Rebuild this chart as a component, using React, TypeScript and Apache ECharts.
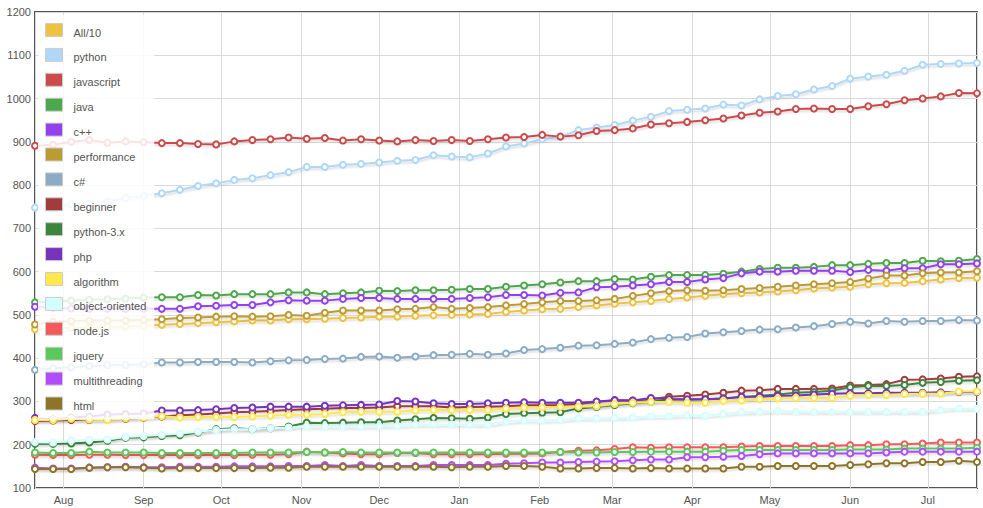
import React, { useEffect, useRef } from "react";
import * as echarts from "echarts";

// Weekly samples: 2012-07-21 .. 2013-07-20 (53 points)
const startYear = 2012;
const startMonth = 6; // July (0-based)
const startDay = 21;
const pointCount = 53;

const monthNames = ["Jan", "Feb", "Mar", "Apr", "May", "Jun", "Jul", "Aug", "Sep", "Oct", "Nov", "Dec"];

const seriesNames = [
  "All/10", "python", "javascript", "java", "c++", "performance", "c#", "beginner",
  "python-3.x", "php", "algorithm", "object-oriented", "node.js", "jquery", "multithreading", "html",
];

const seriesColors = [
  "#edc240", "#afd8f8", "#cb4b4b", "#4da74d", "#9440ed", "#bd9b33", "#8cacc6", "#a23c3c",
  "#3d853d", "#7633bd", "#ffe84c", "#d2ffff", "#f35a5a", "#5cc85c", "#b14cff", "#8e7426",
];

const all10 = [467,469,470,471,472,473,475,477,479,481,483,485,487,487,490,490,491,493,494,496,496,498,499,500,501,502,507,510,513,514,518,522,526,529,532,537,540,544,548,550,552,554,557,561,563,565,571,573,574,578,582,585,586];
const python = [748,752,755,758,762,770,775,781,789,798,804,812,816,823,830,842,842,847,849,852,856,858,869,866,864,873,889,896,906,912,927,933,939,949,958,971,974,977,986,984,998,1006,1010,1021,1029,1046,1051,1055,1064,1078,1080,1081,1082];
const javascript = [891,893,900,904,898,901,899,897,897,895,894,901,904,906,910,907,909,903,906,903,901,904,902,904,902,906,910,911,916,912,915,925,927,931,940,943,946,950,954,961,967,970,976,977,976,976,982,987,996,1000,1005,1013,1012];
const java = [529,531,533,535,536,538,540,541,541,546,545,548,548,548,552,552,548,550,552,556,555,557,557,558,560,560,565,568,571,575,578,578,583,582,588,592,592,592,595,600,606,609,609,611,615,615,618,620,620,625,624,625,629];
const cpp = [519,516,515,514,514,514,514,514,514,520,521,523,523,529,534,533,533,537,539,539,537,537,537,537,539,541,546,546,545,551,552,564,565,568,571,576,576,582,585,596,600,600,602,602,602,599,604,602,608,608,617,617,619];
const performance = [478,484,486,487,487,487,488,490,493,494,496,497,496,497,500,498,505,510,510,510,513,514,518,514,516,518,522,525,529,532,532,534,537,544,550,555,557,556,557,560,562,565,568,571,573,576,584,591,591,596,598,598,601];
const csharp = [373,377,379,382,384,384,386,390,390,391,391,391,390,393,395,396,398,399,403,404,401,404,407,408,410,408,411,419,421,424,429,430,433,436,444,447,449,457,460,463,466,467,471,474,479,484,480,486,484,486,486,488,487];
const beginner = [255,256,257,257,258,260,262,265,268,270,272,275,276,278,280,282,283,285,285,286,289,289,289,286,287,288,289,291,291,292,294,299,303,302,305,311,313,316,320,325,326,329,329,329,330,337,338,340,350,351,353,357,358];
const python3 = [202,202,203,205,209,216,217,220,222,228,236,238,236,238,242,251,250,251,252,252,256,259,262,261,260,263,271,273,274,275,284,287,292,296,299,305,304,305,307,310,313,316,320,322,325,333,336,336,338,343,345,348,349];
const php = [262,259,263,265,270,271,272,279,279,280,282,285,286,288,288,288,290,291,292,293,301,300,296,294,294,296,297,298,297,297,297,300,303,302,308,305,305,305,307,311,311,313,314,316,318,319,319,320,320,320,321,322,322];
const algorithm = [257,257,260,258,257,261,263,266,263,264,264,264,265,267,269,269,271,275,276,276,276,279,280,280,280,280,283,286,286,288,288,289,294,297,299,299,297,297,301,302,305,307,308,308,308,313,315,315,317,318,318,323,323];
const objectOriented = [206,205,210,211,212,218,220,223,226,230,234,236,236,238,240,242,242,242,242,243,244,246,247,247,247,246,253,256,256,257,261,261,262,263,266,266,268,267,271,275,276,278,276,276,276,276,276,276,276,276,280,284,283];
const nodejs = [177,176,176,177,177,176,176,176,176,176,176,176,177,177,178,184,182,180,178,178,181,181,178,178,178,178,179,179,180,183,186,187,190,194,193,194,194,194,194,196,197,197,197,197,197,199,199,201,201,203,205,205,205];
const jquery = [182,181,181,184,182,182,182,181,181,181,181,181,182,182,182,183,182,183,182,182,182,182,182,182,182,182,182,182,182,183,182,182,183,183,184,184,184,184,186,188,188,188,188,188,188,189,189,189,191,191,191,191,193];
const multithreading = [147,145,145,147,148,149,148,148,149,149,149,150,150,150,151,151,153,151,153,151,151,151,153,153,153,153,156,157,159,159,160,161,162,164,166,166,171,171,172,174,178,180,180,180,180,180,180,182,184,184,184,184,184];
const html = [144,144,144,147,148,148,147,145,146,146,146,146,146,147,147,149,149,149,149,149,149,149,149,148,149,149,151,151,149,145,145,146,146,145,146,145,145,145,145,149,149,151,151,151,151,153,155,157,157,160,160,163,160];

const seriesValues = [
  all10, python, javascript, java, cpp, performance, csharp, beginner,
  python3, php, algorithm, objectOriented, nodejs, jquery, multithreading, html,
];

const yTicks = { min: 100, max: 1200, interval: 100 };

const DAY = 86400000;
const dates = Array.from({ length: pointCount }, (_, i) =>
  new Date(startYear, startMonth, startDay + 7 * i).getTime()
);

const FONT = "'Liberation Sans', Arial, Helvetica, sans-serif";
const TEXT = "#545454";

export default function App() {
  const ref = useRef<HTMLDivElement>(null);

  useEffect(() => {
    if (!ref.current) return;
    const chart = echarts.init(ref.current, undefined, { renderer: "svg" });

    const series = seriesNames.map((name, k) => ({
      name,
      type: "line",
      clip: false,
      symbol: "emptyCircle",
      symbolSize: 6,
      showSymbol: true,
      color: seriesColors[k],
      itemStyle: { color: seriesColors[k], borderWidth: 2 },
      lineStyle: {
        color: seriesColors[k],
        width: 2,
        shadowColor: "rgba(0,0,0,0.15)",
        shadowBlur: 2,
        shadowOffsetY: 2,
      },
      emphasis: { disabled: true },
      data: dates.map((d, i) => [d, seriesValues[k][i]]),
    }));

    chart.setOption({
      animation: false,
      textStyle: { fontFamily: FONT },
      grid: {
        left: 35,
        right: 6,
        top: 12,
        bottom: 20,
        show: true,
        borderColor: TEXT,
        borderWidth: 2,
      },
      legend: {
        orient: "vertical",
        left: 38,
        top: 15,
        padding: [8, 8, 8, 7],
        backgroundColor: "rgba(255,255,255,0.85)",
        icon: "rect",
        itemWidth: 17,
        itemHeight: 13,
        itemGap: 9.9,
        itemStyle: { borderColor: "#cccccc", borderWidth: 1 },
        formatter: "{t|{name}}",
        textStyle: {
          color: TEXT,
          fontSize: 11,
          fontFamily: FONT,
          rich: {
            t: { color: TEXT, fontSize: 11, fontFamily: FONT, padding: [5, 0, 0, 6] },
          },
        },
        selectedMode: false,
        data: seriesNames,
      },
      xAxis: {
        type: "time",
        min: dates[0],
        max: dates[dates.length - 1],
        splitNumber: 12,
        minInterval: 28 * DAY,
        maxInterval: 31 * DAY,
        axisLine: { show: false },
        axisTick: { show: false },
        splitLine: { show: true, lineStyle: { color: "#d9d9d9", width: 1 } },
        axisLabel: {
          color: TEXT,
          fontSize: 11,
          fontFamily: FONT,
          margin: 6,
          showMinLabel: false,
          showMaxLabel: false,
          hideOverlap: false,
          formatter: (v: number) => monthNames[new Date(v).getMonth()],
        },
      },
      yAxis: {
        type: "value",
        min: yTicks.min,
        max: yTicks.max,
        interval: yTicks.interval,
        axisLine: { show: false },
        axisTick: { show: false },
        splitLine: { show: true, lineStyle: { color: "#d9d9d9", width: 1 } },
        axisLabel: {
          color: TEXT,
          fontSize: 11,
          fontFamily: FONT,
          margin: 4,
          formatter: (v: number) => String(v),
        },
      },
      series,
    });

    return () => chart.dispose();
  }, []);

  return (
    <div
      ref={ref}
      style={{ position: "fixed", left: 0, top: 0, width: 983, height: 508, background: "#fff" }}
    />
  );
}
